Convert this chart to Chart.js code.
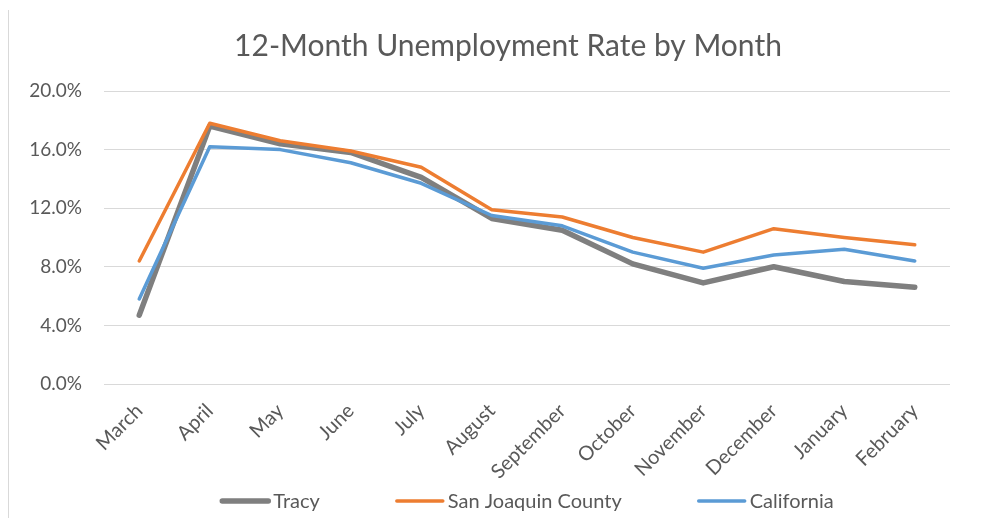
<!DOCTYPE html>
<html>
<head>
<meta charset="utf-8">
<script src="https://cdn.jsdelivr.net/npm/chart.js@4/dist/chart.umd.min.js"></script>
<style>
  html, body { margin: 0; padding: 0; background: #fff; }
  #wrap { position: relative; width: 1000px; height: 518px; }
  #edge { position: absolute; left: 8px; top: 10px; width: 1px; height: 508px; background: #d9d9d9; }
  canvas { display: block; }
</style>
</head>
<body>
<div id="wrap">
  <div id="edge"></div>
  <canvas id="c" width="1000" height="518"></canvas>
</div>
<script>
const chartTitle = "12-Month Unemployment Rate by Month";
const months = ["March", "April", "May", "June", "July", "August", "September", "October", "November", "December", "January", "February"];
const tracy = [4.7, 17.6, 16.4, 15.8, 14.1, 11.3, 10.5, 8.2, 6.9, 8.0, 7.0, 6.6];
const sanJoaquin = [8.4, 17.8, 16.6, 15.9, 14.8, 11.9, 11.4, 10.0, 9.0, 10.6, 10.0, 9.5];
const california = [5.8, 16.2, 16.0, 15.1, 13.7, 11.5, 10.8, 9.0, 7.9, 8.8, 9.2, 8.4];
const yTicks = [0, 4, 8, 12, 16, 20];

const FONT = "Lato, 'Open Sans', sans-serif";
const TXT = "#595959";

const titleAndLegend = {
  id: "titleAndLegend",
  afterDraw(chart) {
    const ctx = chart.ctx;
    ctx.save();
    // title
    ctx.font = "30px " + FONT;
    ctx.fillStyle = TXT;
    ctx.textAlign = "center";
    ctx.textBaseline = "middle";
    ctx.fillText(chartTitle, 508, 46);
    // legend
    const ds = chart.data.datasets;
    const sw = 50, gapText = 3, gapItem = 75, y = 501;
    ctx.font = "20px " + FONT;
    ctx.textAlign = "left";
    const widths = ds.map(d => sw + gapText + ctx.measureText(d.label).width);
    const total = widths.reduce((a, b) => a + b, 0) + gapItem * (ds.length - 1);
    const ca = chart.chartArea;
    let x = (ca.left + ca.right) / 2 - total / 2;
    ds.forEach((d, i) => {
      ctx.strokeStyle = d.borderColor;
      ctx.lineWidth = d.borderWidth;
      ctx.lineCap = "round";
      ctx.beginPath();
      ctx.moveTo(x + 2, y);
      ctx.lineTo(x + sw - 2, y);
      ctx.stroke();
      ctx.fillStyle = TXT;
      ctx.fillText(d.label, x + sw + gapText, y + 1);
      x += widths[i] + gapItem;
    });
    ctx.restore();
  }
};

new Chart(document.getElementById("c"), {
  type: "line",
  data: {
    labels: months,
    datasets: [
      { label: "Tracy", data: tracy, borderColor: "#7f7f7f", backgroundColor: "#7f7f7f", borderWidth: 5.5, order: 3 },
      { label: "San Joaquin County", data: sanJoaquin, borderColor: "#ed7d31", backgroundColor: "#ed7d31", borderWidth: 3.5, order: 2 },
      { label: "California", data: california, borderColor: "#5b9bd5", backgroundColor: "#5b9bd5", borderWidth: 3.5, order: 1 }
    ]
  },
  plugins: [titleAndLegend],
  options: {
    responsive: false,
    animation: false,
    elements: { point: { radius: 0, hoverRadius: 0 }, line: { tension: 0, borderCapStyle: "round", borderJoinStyle: "round" } },
    layout: { padding: { left: 10, right: 50, top: 91, bottom: 34 } },
    plugins: {
      title: { display: false },
      legend: { display: false },
      tooltip: { enabled: false }
    },
    scales: {
      x: {
        offset: true,
        afterFit: (s) => { s.height = 100; },
        grid: { display: false, drawTicks: false },
        border: { display: false },
        ticks: { color: TXT, font: { family: FONT, size: 20 }, minRotation: 45, maxRotation: 45, padding: 15 }
      },
      y: {
        min: 0, max: 20,
        afterBuildTicks: (s) => { s.ticks = yTicks.map(v => ({ value: v })); },
        afterFit: (s) => { s.width = 94; },
        grid: { color: "#d9d9d9", lineWidth: 1, drawTicks: false },
        border: { display: false },
        ticks: { color: TXT, font: { family: FONT, size: 19 }, padding: 22, callback: (v) => v.toFixed(1) + "%" }
      }
    }
  }
});
</script>
</body>
</html>
